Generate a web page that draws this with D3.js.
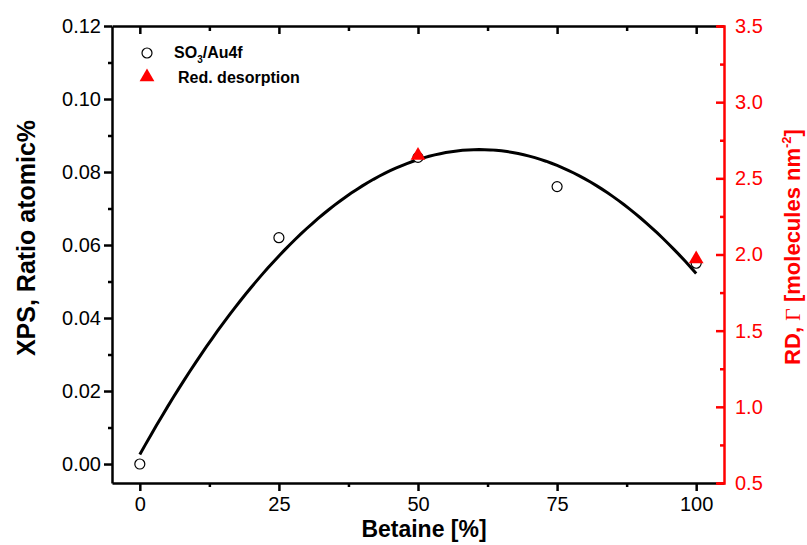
<!DOCTYPE html>
<html>
<head>
<meta charset="utf-8">
<script src="https://cdn.jsdelivr.net/npm/d3@7"></script>
<style>
  html, body { margin: 0; padding: 0; background: #fff; }
  svg { display: block; font-family: Arial, "Liberation Sans", sans-serif; }
</style>
</head>
<body>
<svg id="chart" width="807" height="545"></svg>
<script>
// Betaine content (%) of the mixed layers
const betaine = [0, 25, 50, 75, 100];
// XPS SO3/Au4f atomic ratio at each betaine content
const so3Ratio = [0.000, 0.062, 0.084, 0.076, 0.055];
// Reductive desorption surface coverage (molecules nm^-2)
const rdBetaine = [50, 100];
const rdCoverage = [2.65, 1.97];

// Tick values
const xTicks = [0, 25, 50, 75, 100];
const xMinor = [12.5, 37.5, 62.5, 87.5];
const yLeftTicks = [0.00, 0.02, 0.04, 0.06, 0.08, 0.10, 0.12];
const yLeftMinor = [0.01, 0.03, 0.05, 0.07, 0.09, 0.11];
const yRightTicks = [0.5, 1.0, 1.5, 2.0, 2.5, 3.0, 3.5];
const yRightMinor = [0.75, 1.25, 1.75, 2.25, 2.75, 3.25];

const svg = d3.select("#chart");
const plot = { left: 112, right: 724, top: 26, bottom: 483 };
const RED = "#ff0000";
const AXIS_W = 2.5;

const x = d3.scaleLinear().domain([-5, 105]).range([plot.left, plot.right]);
const yL = d3.scaleLinear().domain([-0.0052, 0.12]).range([plot.bottom, plot.top]);
const yR = d3.scaleLinear().domain([0.5, 3.5]).range([plot.bottom, plot.top]);

// Least-squares quadratic through the XPS points
function quadFit(xs, ys) {
  const S = k => d3.sum(xs, v => Math.pow(v, k));
  const T = k => d3.sum(xs, (v, i) => Math.pow(v, k) * ys[i]);
  const M = [[S(0), S(1), S(2), T(0)], [S(1), S(2), S(3), T(1)], [S(2), S(3), S(4), T(2)]];
  for (let i = 0; i < 3; i++) {
    for (let j = i + 1; j < 3; j++) {
      const f = M[j][i] / M[i][i];
      for (let k = i; k < 4; k++) M[j][k] -= f * M[i][k];
    }
  }
  const c = [0, 0, 0];
  for (let i = 2; i >= 0; i--) {
    let s = M[i][3];
    for (let k = i + 1; k < 3; k++) s -= M[i][k] * c[k];
    c[i] = s / M[i][i];
  }
  return v => c[0] + c[1] * v + c[2] * v * v;
}
const fit = quadFit(betaine, so3Ratio);

function styleAxis(g, color, size) {
  g.selectAll("path.domain").attr("stroke", color).attr("stroke-width", AXIS_W);
  g.selectAll(".tick line").attr("stroke", color).attr("stroke-width", AXIS_W);
  g.selectAll(".tick text").attr("fill", color).attr("font-size", size);
}

// Bottom axis
const gB = svg.append("g").attr("transform", `translate(0,${plot.bottom})`)
  .call(d3.axisBottom(x).tickValues(xTicks).tickSizeInner(8).tickSizeOuter(0).tickPadding(6));
styleAxis(gB, "#000", 20);
svg.append("g").attr("transform", `translate(0,${plot.bottom})`)
  .call(d3.axisBottom(x).tickValues(xMinor).tickSizeInner(4).tickSizeOuter(0).tickFormat(""))
  .call(g => g.select(".domain").remove())
  .call(g => styleAxis(g, "#000", 0));

// Top frame with inward ticks
const gT = svg.append("g").attr("transform", `translate(0,${plot.top})`)
  .call(d3.axisTop(x).tickValues(xTicks).tickSizeInner(-8).tickSizeOuter(0).tickFormat(""));
styleAxis(gT, "#000", 0);
svg.append("g").attr("transform", `translate(0,${plot.top})`)
  .call(d3.axisTop(x).tickValues(xMinor).tickSizeInner(-5).tickSizeOuter(0).tickFormat(""))
  .call(g => g.select(".domain").remove())
  .call(g => styleAxis(g, "#000", 0));

// Left axis
const gL = svg.append("g").attr("transform", `translate(${plot.left},0)`)
  .call(d3.axisLeft(yL).tickValues(yLeftTicks).tickFormat(d3.format(".2f"))
    .tickSizeInner(8).tickSizeOuter(0).tickPadding(3));
styleAxis(gL, "#000", 20);
svg.append("g").attr("transform", `translate(${plot.left},0)`)
  .call(d3.axisLeft(yL).tickValues(yLeftMinor).tickSizeInner(4).tickSizeOuter(0).tickFormat(""))
  .call(g => g.select(".domain").remove())
  .call(g => styleAxis(g, "#000", 0));

// Fitted curve
svg.append("path")
  .datum(d3.range(0, 100.5, 1))
  .attr("fill", "none").attr("stroke", "#000").attr("stroke-width", 3)
  .attr("d", d3.line().x(d => x(d)).y(d => yL(fit(d))));

// XPS points
svg.append("g").selectAll("circle").data(betaine).join("circle")
  .attr("cx", d => x(d)).attr("cy", (d, i) => yL(so3Ratio[i]))
  .attr("r", 5).attr("fill", "#fff").attr("stroke", "#000").attr("stroke-width", 1.2);

// Reductive desorption points
const tri = d3.symbol().type(d3.symbolTriangle).size(95);
svg.append("g").selectAll("path").data(rdBetaine).join("path")
  .attr("transform", (d, i) => `translate(${x(d)},${yR(rdCoverage[i])})`)
  .attr("d", tri).attr("fill", RED);

// Right axis (red)
const gR = svg.append("g").attr("transform", `translate(${plot.right},0)`)
  .call(d3.axisRight(yR).tickValues(yRightTicks).tickFormat(d3.format(".1f"))
    .tickSizeInner(-8).tickSizeOuter(-7).tickPadding(11));
styleAxis(gR, RED, 20);
svg.append("g").attr("transform", `translate(${plot.right},0)`)
  .call(d3.axisRight(yR).tickValues(yRightMinor).tickSizeInner(-4).tickSizeOuter(0).tickFormat(""))
  .call(g => g.select(".domain").remove())
  .call(g => styleAxis(g, RED, 0));

// Axis titles
svg.append("text").attr("x", (plot.left + plot.right) / 2 + 6).attr("y", 537)
  .attr("text-anchor", "middle").attr("font-size", 23).attr("font-weight", "bold")
  .text("Betaine [%]");

svg.append("text").attr("transform", "translate(35,238) rotate(-90)")
  .attr("text-anchor", "middle").attr("font-size", 25).attr("font-weight", "bold")
  .text("XPS, Ratio atomic%");

const rt = svg.append("text").attr("transform", "translate(800,247) rotate(-90)")
  .attr("text-anchor", "middle").attr("font-size", 22).attr("font-weight", "bold")
  .attr("fill", RED);
rt.append("tspan").text("RD, ");
rt.append("tspan").attr("font-family", "'Liberation Serif', 'DejaVu Serif', serif")
  .attr("font-weight", "normal").text("Γ");
rt.append("tspan").text(" [molecules nm");
rt.append("tspan").attr("font-size", 13).attr("dy", -9).text("-2");
rt.append("tspan").attr("dy", 9).text("]");

// Legend
const leg = svg.append("g");
leg.append("circle").attr("cx", 147).attr("cy", 53).attr("r", 5)
  .attr("fill", "#fff").attr("stroke", "#000").attr("stroke-width", 1.2);
const l1 = leg.append("text").attr("x", 174).attr("y", 58)
  .attr("font-size", 16).attr("font-weight", "bold");
l1.append("tspan").text("SO");
l1.append("tspan").attr("font-size", 10).attr("dy", 5).text("3");
l1.append("tspan").attr("dy", -5).text("/Au4f");
leg.append("path").attr("transform", "translate(147,77)").attr("d", tri).attr("fill", RED);
leg.append("text").attr("x", 178).attr("y", 83)
  .attr("font-size", 16).attr("font-weight", "bold").text("Red. desorption");
</script>
</body>
</html>
